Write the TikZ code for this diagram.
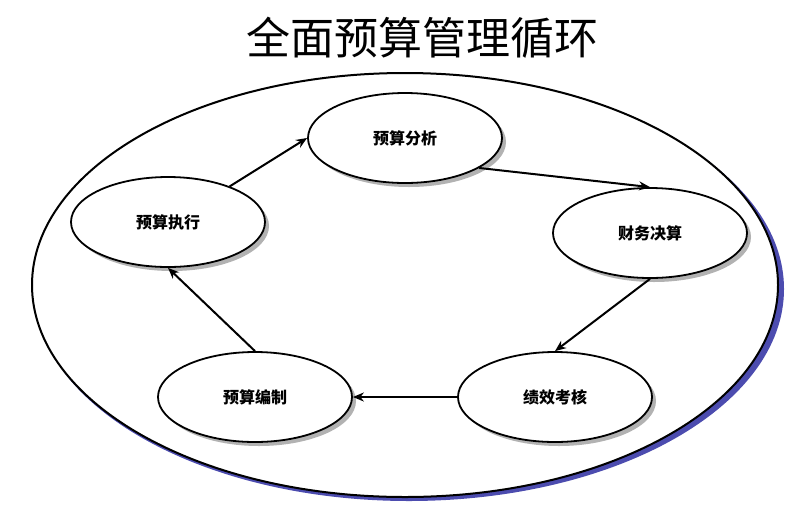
\documentclass[tikz,border=0pt]{standalone}
\usepackage{fontspec}
\setmainfont{Noto Sans CJK SC}
\usetikzlibrary{shapes.geometric,arrows.meta}
\begin{document}
\begin{tikzpicture}[x=1pt,y=-1pt,
  stage/.style={ellipse,draw,line width=1.8pt,fill=white,minimum width=194pt,minimum height=90pt,font=\fontsize{16}{18}\selectfont\bfseries},
  flow/.style={-{Stealth[length=11pt,width=9pt]},line width=2pt}]
\useasboundingbox (0,0) rectangle (805,512);
\node (title) at (422,38) {\fontsize{44}{48}\selectfont 全面预算管理循环};
\fill[blue!55!black!70] (409,289) ellipse [x radius=375,y radius=212];
\draw[line width=2pt,fill=white] (405,285) ellipse [x radius=373,y radius=212];
\foreach \p in {(409,142),(654,237),(559,401),(259,401),(172,226)}
  \fill[gray!60] \p ellipse [x radius=97,y radius=45];
\node[stage] (a) at (405,138) {预算分析};
\node[stage] (b) at (650,233) {财务决算};
\node[stage] (c) at (555,397) {绩效考核};
\node[stage] (d) at (255,397) {预算编制};
\node[stage] (e) at (168,222) {预算执行};
\draw[flow] (e.30) -- (a.west);
\draw[flow] (a.-22) -- (b.north);
\draw[flow] (b.south) -- (c.north);
\draw[flow] (c.west) -- (d.east);
\draw[flow] (d.north) -- (e.south);
\end{tikzpicture}
\end{document}
